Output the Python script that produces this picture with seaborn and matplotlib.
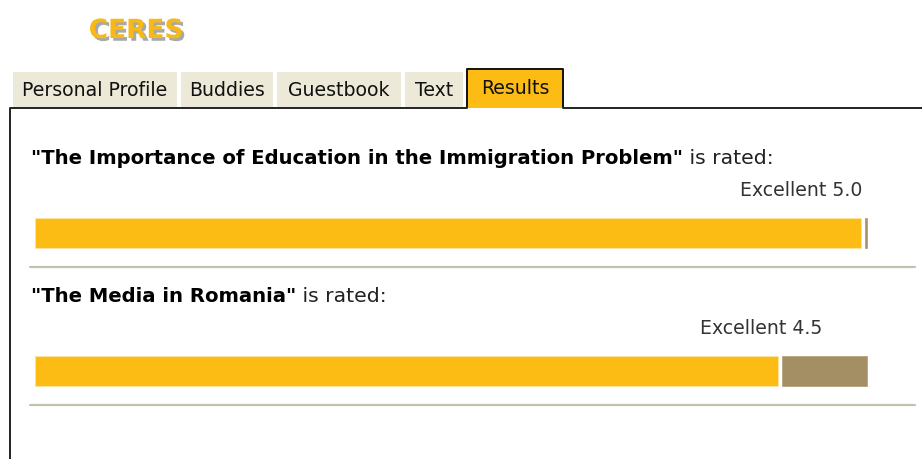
import matplotlib
matplotlib.use("Agg")
import matplotlib.pyplot as plt
import matplotlib.patheffects as pe
from matplotlib.patches import Rectangle
from matplotlib.transforms import Affine2D
import pandas as pd
import seaborn as sns

# data
site_name = "CERES"
tabs = ["Personal Profile", "Buddies", "Guestbook", "Text", "Results"]
active_tab = "Results"
essays = ["The Importance of Education in the Immigration Problem", "The Media in Romania"]
ratings = [5.0, 4.5]
verdicts = ["Excellent", "Excellent"]
max_rating = 5.0

W, H = 922, 459
YELLOW = "#FCBC14"
BROWN = "#A38F63"
TAB_BG = "#ECE9D8"
RULE = "#C4C0B0"

sns.set_theme(style="white")
plt.rcParams["font.family"] = ["DejaVu Sans"]

fig = plt.figure(figsize=(W / 100, H / 100), dpi=100)
fig.patch.set_facecolor("white")
# pixel coords, origin top-left
px = Affine2D().scale(1 / W, -1 / H).translate(0, 1) + fig.transFigure
rend = fig.canvas.get_renderer()


def fit(t, width):
    w = t.get_window_extent(rend).width
    t.set_fontsize(t.get_fontsize() * width / w)
    return t


# bars live in a full-figure axes: rating 0 -> px 35, rating 5 -> px 861
ax = fig.add_axes([0, 0, 1, 1])
df = pd.DataFrame({"essay": essays, "rating": ratings})
gap = 0.022
bar_h = 30 / 138
scale = 165.2

sns.barplot(data=df, x="rating", y="essay", orient="h", color=YELLOW, saturation=1,
            width=bar_h, errorbar=None, edgecolor="#FDE3A0", linewidth=0.7, ax=ax)
sns.barplot(x=max_rating - df["rating"] + 0.7 * gap, y=df["essay"], orient="h", color=BROWN,
            saturation=1, width=bar_h, errorbar=None, left=df["rating"] + gap,
            edgecolor="#B8A886", linewidth=0.7, ax=ax)
ax.set_xlim(-35 / scale, (W - 35) / scale)
ax.set_ylim(1 + (H - 371) / 138, -233 / 138)
ax.axis("off")

# logo
fig.text(136, 31, site_name, transform=px, ha="center", va="center", fontsize=19,
         fontweight="bold", color="#F7B818",
         path_effects=[pe.withSimplePatchShadow(offset=(2, -2), shadow_rgbFace="#6E6E6E", alpha=0.6)])

# tabs
tab_edges = [(13, 177), (181, 273), (277, 401), (405, 463), (467, 563)]
for name, (x0, x1) in zip(tabs, tab_edges):
    if name == active_tab:
        fig.patches.append(Rectangle((x0, 68), x1 - x0, 40, transform=px, facecolor=YELLOW,
                                     edgecolor="none"))
        fig.lines.append(plt.Line2D([x0, x0, x1, x1], [107, 68.5, 68.5, 107], transform=px,
                                    color="#111111", lw=1.4))
        yc = 88
    else:
        fig.patches.append(Rectangle((x0, 72), x1 - x0, 35, transform=px, facecolor=TAB_BG,
                                     edgecolor="none"))
        yc = 90
    fig.text((x0 + x1) / 2, yc, name, transform=px, ha="center", va="center",
             fontsize=13.6, color="#111111")

# content frame
fig.lines.append(plt.Line2D([9.5, 9.5, 467], [H, 107.5, 107.5], transform=px, color="#222222", lw=1.4))
fig.lines.append(plt.Line2D([563, W], [107.5, 107.5], transform=px, color="#222222", lw=1.4))

# titles, verdicts, rules
title_y = [158, 296]
verdict_y = [190, 328]
verdict_right = [862, 822]
rule_y = [267, 405]
size = None
for i, essay in enumerate(essays):
    b = fig.text(31, title_y[i], '"' + essay + '"', transform=px, ha="left", va="center",
                 fontsize=12, fontweight="bold", color="black")
    if size is None:
        fit(b, 650)
        size = b.get_fontsize()
    b.set_fontsize(size)
    bb = b.get_window_extent(rend)
    fig.text(bb.x1 / W, 1 - title_y[i] / H, " is rated:", ha="left", va="center",
             fontsize=size * 1.04, color="#222222")
    fig.text(verdict_right[i], verdict_y[i], f"{verdicts[i]} {ratings[i]:.1f}", transform=px,
             ha="right", va="center", fontsize=13.6, color="#333333")
    fig.lines.append(plt.Line2D([30, 915], [rule_y[i], rule_y[i]], transform=px, color=RULE, lw=1.6))

fig.savefig("out.png", dpi=100, facecolor="white")
